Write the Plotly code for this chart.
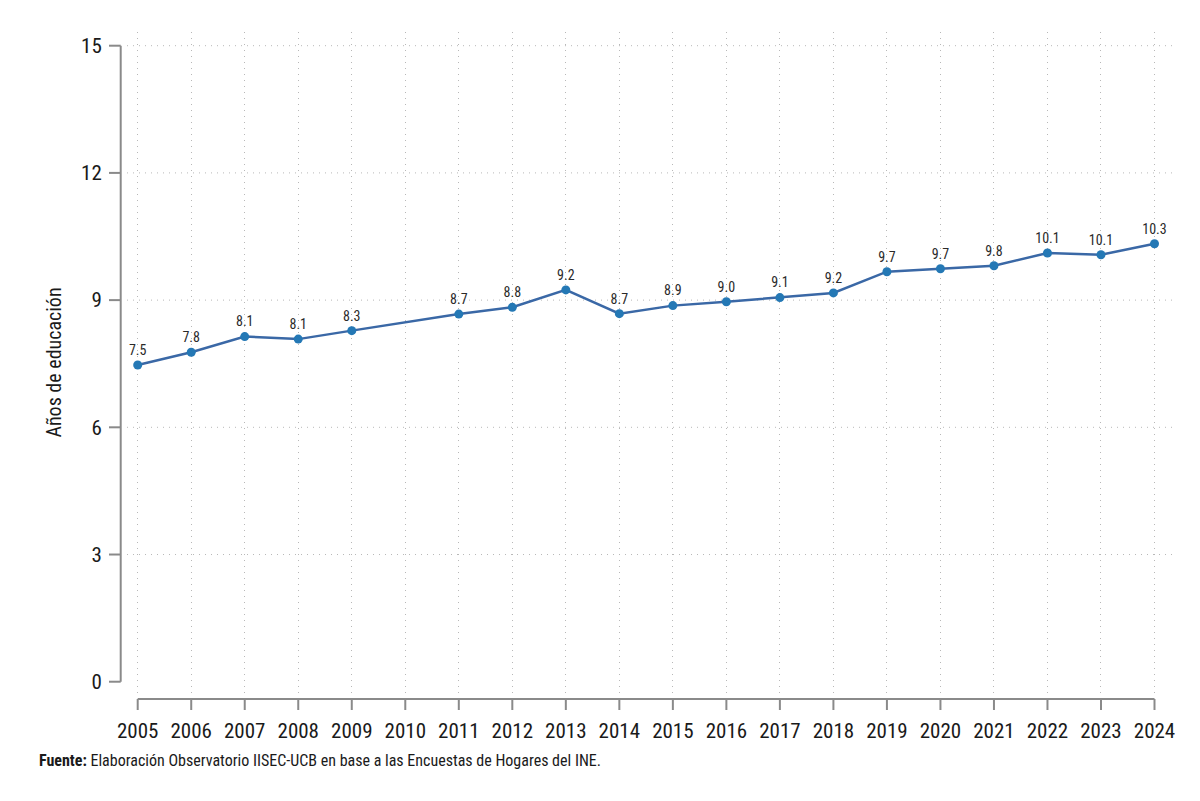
import plotly.graph_objects as go

years = [2005, 2006, 2007, 2008, 2009, 2010, 2011, 2012, 2013, 2014,
         2015, 2016, 2017, 2018, 2019, 2020, 2021, 2022, 2023, 2024]
anios_educ = [7.47, 7.77, 8.14, 8.08, 8.28, None, 8.67, 8.83, 9.24, 8.68,
              8.87, 8.96, 9.06, 9.17, 9.67, 9.74, 9.81, 10.11, 10.07, 10.33]
y_ticks = [0, 3, 6, 9, 12, 15]
y_title = "Años de educación"
source_note = "<b>Fuente:</b> Elaboración Observatorio IISEC-UCB en base a las Encuestas de Hogares del INE."

FONT = "Liberation Sans Narrow, Arial Narrow, Roboto Condensed, DejaVu Sans Condensed, sans-serif"
AXIS_GREY = "#8a8a8a"
GRID_GREY = "#b8b8b8"
TXT = "#1a1a1a"

labels = [None if v is None else f"{v:.1f}" for v in anios_educ]

fig = go.Figure()
fig.add_trace(go.Scatter(
    x=years, y=anios_educ, text=labels,
    mode="lines+markers+text", textposition="top center",
    textfont=dict(family=FONT, size=14, color="#2a2a2a"),
    connectgaps=True,
    line=dict(color="#3a68a6", width=2.5),
    marker=dict(color="#2478b5", size=9),
    hoverinfo="x+y", showlegend=False,
))

W, H = 1200, 801
ml, mr, mt, mb = 127, 28, 32, 108
pw, ph = W - ml - mr, H - mt - mb

def px_x(p):
    return (p - ml) / pw

def px_y(p):
    return (H - mb - p) / ph

shapes = []
# gridlines (none at 0, like the reference)
for v in y_ticks[1:]:
    shapes.append(dict(type="line", xref="paper", yref="y", x0=0, x1=1, y0=v, y1=v,
                       line=dict(color=GRID_GREY, width=1, dash="1px,5px"), layer="below"))
# y axis line and ticks
yax_x = px_x(120.7)
shapes.append(dict(type="line", xref="paper", yref="y", x0=yax_x, x1=yax_x,
                   y0=min(y_ticks), y1=max(y_ticks), line=dict(color=AXIS_GREY, width=2)))
for v in y_ticks:
    shapes.append(dict(type="line", xref="paper", yref="y", x0=px_x(109), x1=yax_x,
                       y0=v, y1=v, line=dict(color=AXIS_GREY, width=2)))
# x axis line and ticks
xax_y = px_y(699)
shapes.append(dict(type="line", xref="x", yref="paper", x0=years[0], x1=years[-1],
                   y0=xax_y, y1=xax_y, line=dict(color=AXIS_GREY, width=2)))
for yr in years:
    shapes.append(dict(type="line", xref="x", yref="paper", x0=yr, x1=yr,
                       y0=px_y(710), y1=xax_y, line=dict(color=AXIS_GREY, width=2)))

fig.update_layout(
    width=W, height=H,
    margin=dict(l=ml, r=mr, t=mt, b=mb),
    paper_bgcolor="white", plot_bgcolor="white",
    font=dict(family=FONT, color=TXT),
    shapes=shapes,
    xaxis=dict(
        range=[2004.8, 2024.327], tickmode="array", tickvals=years,
        ticktext=[str(y) for y in years],
        tickfont=dict(family=FONT, size=21, color=TXT),
        ticks="outside", ticklen=19, tickcolor="rgba(0,0,0,0)",
        showgrid=True, gridcolor=GRID_GREY, gridwidth=1, griddash="1px,5px",
        showline=False, zeroline=False, fixedrange=True,
    ),
    yaxis=dict(
        range=[-0.266, 15.323], tickmode="array", tickvals=y_ticks,
        tickfont=dict(family=FONT, size=21, color=TXT),
        ticks="outside", ticklen=20, tickcolor="rgba(0,0,0,0)",
        showgrid=False, showline=False, zeroline=False, fixedrange=True,
        title=dict(text=y_title, font=dict(family=FONT, size=20, color=TXT), standoff=14),
    ),
    annotations=[dict(
        text=source_note, xref="paper", yref="paper",
        x=px_x(37), y=px_y(760), xanchor="left", yanchor="middle",
        showarrow=False, font=dict(family=FONT, size=16, color=TXT),
    )],
)

fig.write_html("out.html")
